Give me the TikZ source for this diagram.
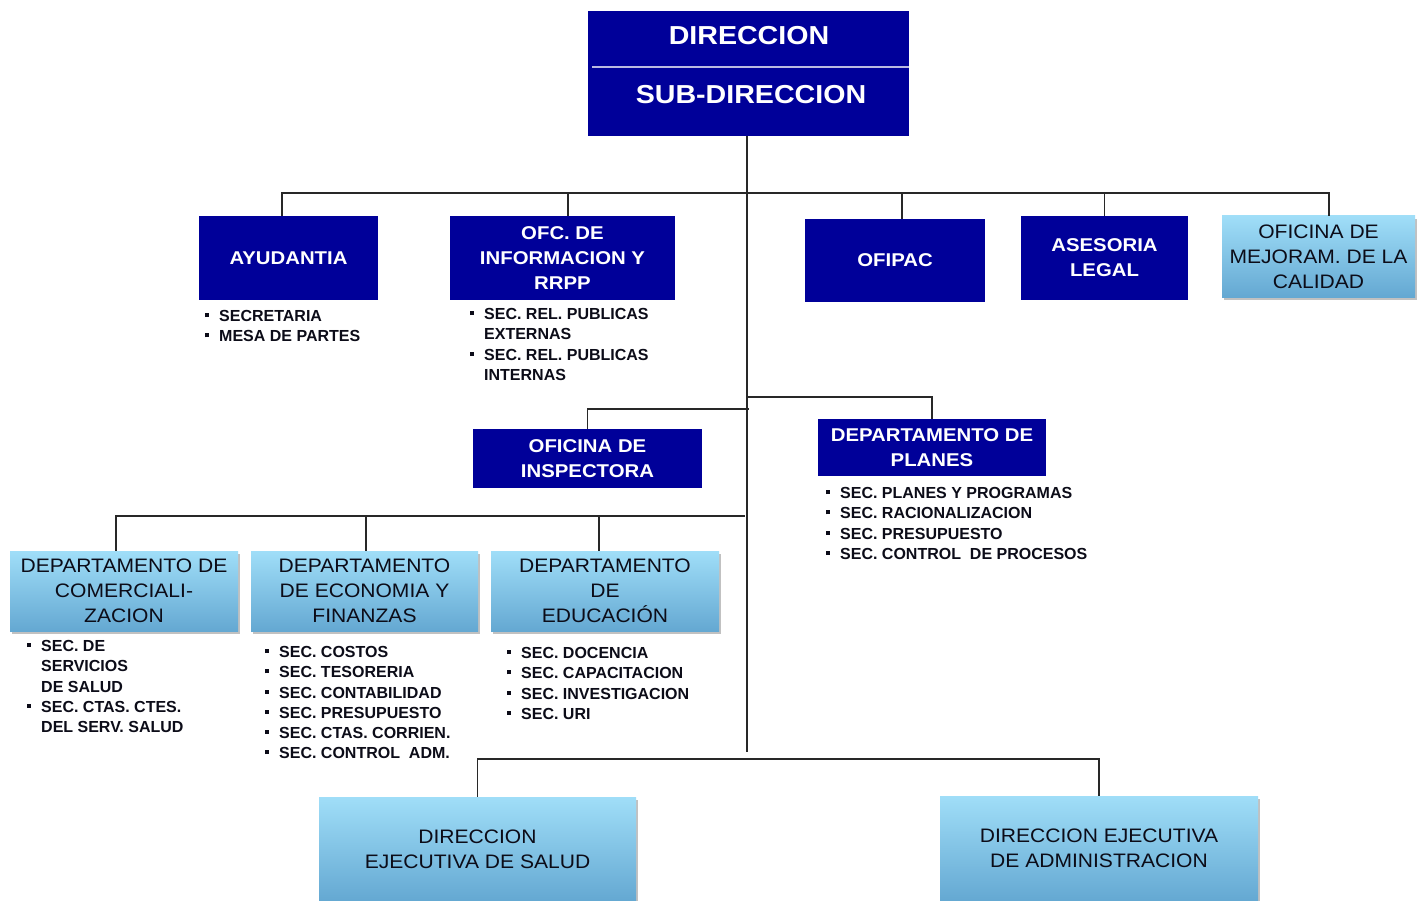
\documentclass[tikz,border=0pt]{standalone}
\usepackage{fontspec}
\usetikzlibrary{shadows,calc}
\newfontfamily\boxfont{Liberation Sans}[FakeStretch=1.1]
\newfontfamily\lightfont{Liberation Sans}[FakeStretch=1.08]
\newfontfamily\listfont{Liberation Sans}
\definecolor{orgnavy}{RGB}{0,0,153}
\definecolor{skytop}{RGB}{160,222,248}
\definecolor{skybot}{RGB}{100,168,210}
\definecolor{wirecol}{RGB}{40,40,40}
\definecolor{divcol}{RGB}{185,185,225}
\definecolor{inktxt}{RGB}{12,12,24}
% square bullet and the matching indent for continued lines
\newcommand\blt{\makebox[14pt][l]{\rule[4.5pt]{4pt}{4pt}}}
\newcommand\secindent{\hspace*{14pt}}
\begin{document}
\begin{tikzpicture}[x=1pt,y=-1pt,
  wire/.style={draw=wirecol, line width=1.3pt},
  darkbox/.style={fill=orgnavy, text=white, inner sep=0pt, align=center,
    font={\boxfont\bfseries\fontsize{18.5}{25}\selectfont}},
  lightbox/.style={top color=skytop, bottom color=skybot, text=inktxt,
    inner sep=0pt, align=center,
    font={\lightfont\fontsize{19.5}{25}\selectfont},
    drop shadow={shadow xshift=2pt, shadow yshift=-3pt, opacity=0.4, fill=black!60}},
  seclist/.style={anchor=north west, inner sep=0pt, align=left, text=inktxt,
    font={\listfont\bfseries\fontsize{16}{20.2}\selectfont}},
  toptxt/.style={text=white, inner sep=0pt,
    font={\boxfont\bfseries\fontsize{26}{30}\selectfont}},
]
\useasboundingbox[fill=white] (0,0) rectangle (1423,901);

% ---- head box ----
\node[fill=orgnavy, minimum width=321pt, minimum height=125pt, inner sep=0pt] (dir) at (748.5,73.5) {};
\draw[divcol, line width=1.2pt] (592,67) -- (909,67);
\node[toptxt] (dirA) at (749,36) {DIRECCION};
\node[toptxt] (dirB) at (751,95) {SUB-DIRECCION};

% ---- staff offices ----
\node[darkbox, minimum width=179pt, minimum height=84pt] (ayu) at (288.5,258) {AYUDANTIA};
\node[darkbox, minimum width=225pt, minimum height=84pt] (ofc) at (562.5,258) {OFC. DE\\INFORMACION Y\\RRPP};
\node[darkbox, minimum width=180pt, minimum height=83pt] (ofipac) at (895,260.5) {OFIPAC};
\node[darkbox, minimum width=167pt, minimum height=84pt] (ases) at (1104.5,258) {ASESORIA\\LEGAL};
\node[lightbox, minimum width=193pt, minimum height=81pt] (mej) at (1318.5,256.5) {OFICINA DE\\MEJORAM. DE LA\\CALIDAD};

\node[seclist] (ayuList) at (205,310.3) {\blt SECRETARIA\\\blt MESA DE PARTES};
\node[seclist] (ofcList) at (470,308.3) {\blt SEC. REL. PUBLICAS\\\secindent EXTERNAS\\\blt SEC. REL. PUBLICAS\\\secindent INTERNAS};

% ---- second level ----
\node[darkbox, minimum width=229pt, minimum height=59pt] (insp) at (587.5,458.5) {OFICINA DE\\INSPECTORA};
\node[darkbox, minimum width=228pt, minimum height=57pt] (planes) at (932,447.5) {DEPARTAMENTO DE\\PLANES};
\node[seclist] (planesList) at (826,487.3) {\blt SEC. PLANES Y PROGRAMAS\\\blt SEC. RACIONALIZACION\\\blt SEC. PRESUPUESTO\\\blt SEC. CONTROL\ \ DE PROCESOS};

% ---- departments ----
\node[lightbox, minimum width=228pt, minimum height=80pt] (com) at (124,591) {DEPARTAMENTO DE\\COMERCIALI-\\ZACION};
\node[lightbox, minimum width=227pt, minimum height=80pt] (eco) at (364.5,591) {DEPARTAMENTO\\DE ECONOMIA Y\\FINANZAS};
\node[lightbox, minimum width=228pt, minimum height=80pt] (edu) at (605,591) {DEPARTAMENTO\\DE\\EDUCACIÓN};

\node[seclist] (comList) at (27,640.3) {\blt SEC. DE\\\secindent SERVICIOS\\\secindent DE SALUD\\\blt SEC. CTAS. CTES.\\\secindent DEL SERV. SALUD};
\node[seclist] (ecoList) at (265,646.3) {\blt SEC. COSTOS\\\blt SEC. TESORERIA\\\blt SEC. CONTABILIDAD\\\blt SEC. PRESUPUESTO\\\blt SEC. CTAS. CORRIEN.\\\blt SEC. CONTROL\ \ ADM.};
\node[seclist] (eduList) at (507,647.3) {\blt SEC. DOCENCIA\\\blt SEC. CAPACITACION\\\blt SEC. INVESTIGACION\\\blt SEC. URI};

% ---- executive directions ----
\node[lightbox, minimum width=317pt, minimum height=104pt] (salud) at (477.5,849) {DIRECCION\\EJECUTIVA DE SALUD};
\node[lightbox, minimum width=318pt, minimum height=105pt] (admin) at (1099,848.5) {DIRECCION EJECUTIVA\\DE ADMINISTRACION};

% ---- connectors ----
\coordinate (trunkEnd) at (747,752);
\coordinate (bus1) at (747,193);
\coordinate (j2) at (749,409);
\coordinate (j3) at (747,397);
\coordinate (j4) at (745,516);
\coordinate (bus4) at (788,759);

\coordinate (ayuTop) at ([xshift=-6.5pt]ayu.north);
\coordinate (ofcTop) at ([xshift=5.5pt]ofc.north);
\coordinate (ofipacTop) at ([xshift=7pt]ofipac.north);
\coordinate (mejTop) at ([xshift=10.5pt]mej.north);
\coordinate (comTop) at ([xshift=-8pt]com.north);
\coordinate (ecoTop) at ([xshift=1.5pt]eco.north);
\coordinate (eduTop) at ([xshift=-6pt]edu.north);

\draw[wire] (dir.south -| trunkEnd) -- (trunkEnd);
\draw[wire] (ayuTop) |- (bus1) -| (mejTop);
\draw[wire] (ofcTop) -- (ofcTop |- bus1);
\draw[wire] (ofipacTop) -- (ofipacTop |- bus1);
\draw[wire] (ases.north) -- (ases.north |- bus1);

\draw[wire] (insp.north) |- (j2);
\draw[wire] (j3) -| (planes.north);

\draw[wire] (comTop) |- (j4);
\draw[wire] (ecoTop) -- (ecoTop |- j4);
\draw[wire] (eduTop) -- (eduTop |- j4);

\draw[wire] (salud.north) |- (bus4) -| (admin.north);
\end{tikzpicture}
\end{document}
